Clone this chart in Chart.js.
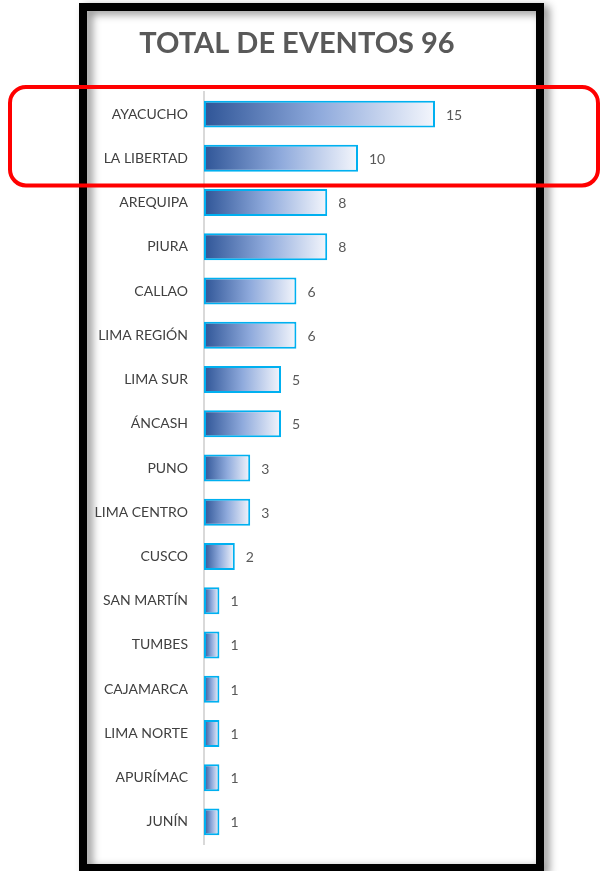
<!DOCTYPE html>
<html>
<head>
<meta charset="utf-8">
<script src="https://cdn.jsdelivr.net/npm/chart.js@4"></script>
<style>
  html, body { margin: 0; padding: 0; background: #fff; }
  #wrap { width: 600px; height: 871px; position: relative; }
</style>
</head>
<body>
<div id="wrap"><canvas id="chart" width="600" height="871"></canvas></div>
<script>
const chartTitle = 'TOTAL DE EVENTOS 96';
const regions = ['AYACUCHO', 'LA LIBERTAD', 'AREQUIPA', 'PIURA', 'CALLAO', 'LIMA REGIÓN', 'LIMA SUR', 'ÁNCASH',
  'PUNO', 'LIMA CENTRO', 'CUSCO', 'SAN MARTÍN', 'TUMBES', 'CAJAMARCA', 'LIMA NORTE', 'APURÍMAC', 'JUNÍN'];
const eventos = [15, 10, 8, 8, 6, 6, 5, 5, 3, 3, 2, 1, 1, 1, 1, 1, 1];
const highlighted = [0, 1]; // rows inside the red box

// gradient per bar, dark on the left to almost white at the end
function barGradient(context) {
  const chart = context.chart;
  const xs = chart.scales.x;
  if (!chart.chartArea || !xs) return '#8ea9db';
  const x0 = xs.getPixelForValue(0);
  const x1 = xs.getPixelForValue(context.raw);
  const g = chart.ctx.createLinearGradient(x0, 0, x1, 0);
  g.addColorStop(0, '#2f5597');
  g.addColorStop(0.5, '#8faadc');
  g.addColorStop(1, '#f4f6fc');
  return g;
}

// frame, title, value labels and the red highlight box
const decorations = {
  id: 'decorations',
  beforeDraw(chart) {
    const ctx = chart.ctx;
    ctx.save();
    ctx.fillStyle = '#fff';
    ctx.fillRect(0, 0, chart.width, chart.height);
    ctx.shadowColor = 'rgba(0,0,0,0.45)';
    ctx.shadowBlur = 8;
    ctx.shadowOffsetX = 5;
    ctx.shadowOffsetY = 3;
    ctx.strokeStyle = '#000';
    ctx.lineWidth = 8;
    ctx.strokeRect(83, 7, 457, 861);
    ctx.restore();

    ctx.save();
    ctx.font = 'bold 29px Lato';
    ctx.fillStyle = '#595959';
    ctx.textAlign = 'center';
    ctx.textBaseline = 'middle';
    ctx.fillText(chartTitle, 297, 44);
    ctx.restore();
  },
  afterDatasetsDraw(chart) {
    const ctx = chart.ctx;
    const meta = chart.getDatasetMeta(0);
    ctx.save();
    ctx.font = '14px Lato';
    ctx.fillStyle = '#595959';
    ctx.textAlign = 'left';
    ctx.textBaseline = 'middle';
    meta.data.forEach((bar, i) => {
      ctx.fillText(String(eventos[i]), bar.x + 11, bar.y + 1);
    });
    ctx.restore();
  },
  afterDraw(chart) {
    const ctx = chart.ctx;
    const ys = chart.scales.y;
    const step = ys.getPixelForValue(1) - ys.getPixelForValue(0);
    const top = ys.getPixelForValue(highlighted[0]) - step / 2 - 5;
    const bottom = ys.getPixelForValue(highlighted[highlighted.length - 1]) + step / 2 + 5;
    ctx.save();
    ctx.strokeStyle = '#ff0000';
    ctx.lineWidth = 4;
    ctx.beginPath();
    ctx.roundRect(10, top, 588, bottom - top, 16);
    ctx.stroke();
    ctx.restore();
  }
};

new Chart(document.getElementById('chart'), {
  type: 'bar',
  data: {
    labels: regions,
    datasets: [{
      data: eventos,
      backgroundColor: barGradient,
      borderColor: '#00b0f0',
      borderWidth: 2,
      borderSkipped: false,
      categoryPercentage: 1,
      barPercentage: 0.61
    }]
  },
  options: {
    indexAxis: 'y',
    responsive: false,
    animation: false,
    layout: { padding: { left: 0, right: 88, top: 92, bottom: 27 } },
    plugins: {
      legend: { display: false },
      title: { display: false },
      tooltip: { enabled: false }
    },
    scales: {
      x: {
        display: false,
        min: 0,
        max: 20
      },
      y: {
        afterFit(scale) { scale.width = 204; },
        grid: { display: false, drawTicks: false },
        border: { display: true, color: '#d9d9d9', width: 2 },
        ticks: {
          color: '#404040',
          padding: 16,
          font: { family: 'Lato', size: 14 }
        }
      }
    }
  },
  plugins: [decorations]
});
</script>
</body>
</html>
